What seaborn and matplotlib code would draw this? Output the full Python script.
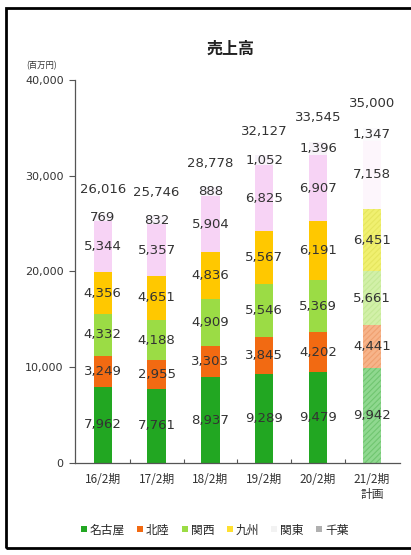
import numpy as np
import matplotlib
matplotlib.use("Agg")
import matplotlib.pyplot as plt
from matplotlib.patches import Rectangle
from matplotlib.lines import Line2D
import seaborn as sns

sns.set_theme(style="white")
plt.rcParams['font.family'] = ['Noto Sans CJK JP', 'DejaVu Sans']
plt.rcParams['hatch.linewidth'] = 0.8

# データ (百万円)
periods = ["16/2期", "17/2期", "18/2期", "19/2期", "20/2期", "21/2期\n計画"]
regions = ["名古屋", "北陸", "関西", "九州", "関東", "千葉"]
nagoya = [7962, 7761, 8937, 9289, 9479, 9942]
hokuriku = [3249, 2955, 3303, 3845, 4202, 4441]
kansai = [4332, 4188, 4909, 5546, 5369, 5661]
kyushu = [4356, 4651, 4836, 5567, 6191, 6451]
kanto = [5344, 5357, 5904, 6825, 6907, 7158]
chiba = [769, 832, 888, 1052, 1396, 1347]
totals = [26016, 25746, 28778, 32127, 33545, 35000]

series = [nagoya, hokuriku, kansai, kyushu, kanto, chiba]
colors = ["#22a722", "#f26a12", "#9bdc45", "#ffc800", "#f7d3f5", "#f7f2f9"]
plan_colors = ["#8fd88f", "#f7b48a", "#d2f0a8", "#f0f070", "#fdf6fc", "#fbfafc"]
plan_hatch = ["#70c670", "#f0a070", "#c4e996", "#e6e65e", "#fdf6fc", "#fbfafc"]
legend_colors = ["#22a722", "#f26a12", "#9bdc45", "#ffe030", "#f2f2f2", "#b0b0b0"]

fig = plt.figure(figsize=(4.11, 5.55), dpi=100)
ax = fig.add_axes([0.182, 0.166, 0.791, 0.69])

bottom = np.zeros(len(periods))
for vals, c, pc, ph in zip(series, colors, plan_colors, plan_hatch):
    sns.barplot(x=periods, y=vals, bottom=bottom, color=c, width=0.34,
                saturation=1, ax=ax, linewidth=0, order=periods)
    # 計画の棒はハッチング
    p = ax.patches[-1]
    p.set_facecolor(pc)
    p.set_edgecolor(ph)
    p.set_hatch("//////")
    for i, v in enumerate(vals):
        ax.text(i, bottom[i] + v / 2, f"{v:,}", ha="center", va="center",
                fontsize=9.5, color="#333333", family=['DejaVu Sans'])
    bottom += np.array(vals)

# 合計ラベル (棒の上)
for i, t in enumerate(totals):
    ax.text(i, bottom[i] + 2500, f"{t:,}", ha="center", va="center",
            fontsize=9.5, color="#333333", family=['DejaVu Sans'])

ax.set_xlim(-0.52, 5.52)
ax.set_ylim(0, 40000)
ax.set_yticks([0, 10000, 20000, 30000, 40000])
ax.set_yticklabels([f"{v:,}" for v in [0, 10000, 20000, 30000, 40000]],
                   fontsize=8, color="#333333", family=['DejaVu Sans'])
ax.set_xticks(range(len(periods)))
ax.set_xticklabels(periods, fontsize=8.5, color="#333333")
ax.set_xticks(np.arange(0.5, 5.0, 1), minor=True)
ax.tick_params(axis="y", which="major", direction="out", length=4, width=0.8,
               color="#555555", left=True, pad=4)
ax.tick_params(axis="x", which="major", length=0, pad=7)
ax.tick_params(axis="x", which="minor", direction="in", length=3, width=0.8,
               color="#555555", bottom=True)
ax.set_xlabel("")
ax.set_ylabel("")
for s in ["top", "right"]:
    ax.spines[s].set_visible(False)
for s in ["left", "bottom"]:
    ax.spines[s].set_color("#555555")
    ax.spines[s].set_linewidth(0.9)

fig.text(0.56, 0.913, "売上高", ha="center", va="center", fontsize=11.5,
         fontweight="bold", color="#222222")
fig.text(0.1, 0.882, "(百万円)", ha="center", va="center", fontsize=6,
         color="#333333")

handles = [Line2D([], [], marker="s", linestyle="", markersize=4,
                  markerfacecolor=c, markeredgewidth=0) for c in legend_colors]
fig.legend(handles, regions, loc="center", bbox_to_anchor=(0.52, 0.045),
           ncol=6, frameon=False, fontsize=8.5, handletextpad=0.1,
           columnspacing=0.9, handlelength=0.8)

fig.patches.append(Rectangle((0.014, 0.012), 1.2, 0.974, transform=fig.transFigure,
                             fill=False, edgecolor="black", linewidth=2))

fig.savefig("out.png", dpi=100)
